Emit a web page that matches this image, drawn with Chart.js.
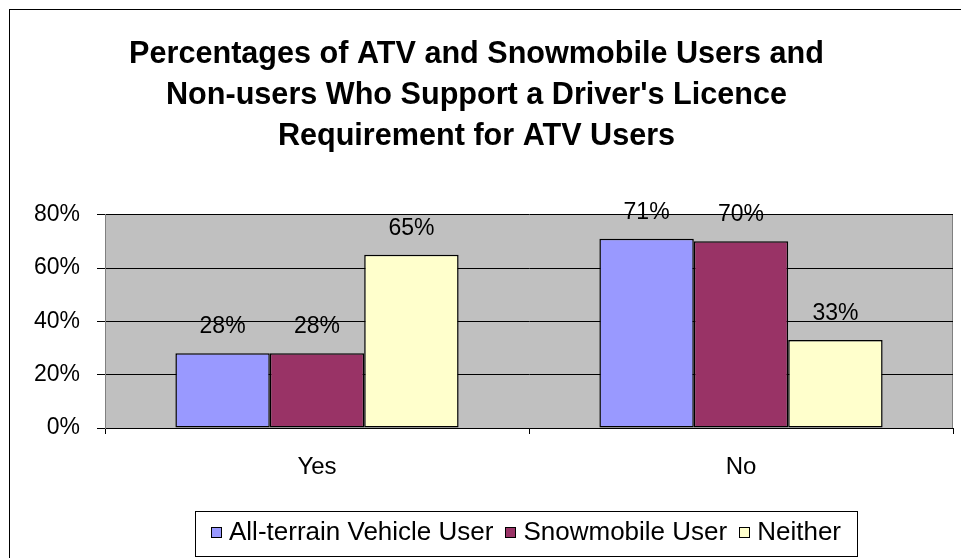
<!DOCTYPE html>
<html>
<head>
<meta charset="utf-8">
<script src="https://cdn.jsdelivr.net/npm/chart.js@4.4.1/dist/chart.umd.min.js"></script>
<style>
  html, body { margin: 0; padding: 0; background: #fff; }
  canvas { display: block; }
</style>
</head>
<body>
<canvas id="myChart" width="961" height="558"></canvas>
<script>
// chart values
var categories = ['Yes', 'No']
var seriesNames = ['All-terrain Vehicle User', 'Snowmobile User', 'Neither']
var atvUsers = [28, 71]
var snowmobileUsers = [28, 70]
var neither = [65, 33]
var yMin = 0
var yMax = 80
var yStep = 20

var titleLines = [
	'Percentages of ATV and Snowmobile Users and',
	"Non-users Who Support a Driver's Licence",
	'Requirement for ATV Users'
]

var colors = ['#9999FF', '#993366', '#FFFFCC']
var fontFamily = '"Liberation Sans", Arial, sans-serif'

// gray plot area, outer frame and right border
var backdrop = {
	id: 'backdrop',
	beforeDraw: function(chart){
		var ctx = chart.ctx
		var a = chart.chartArea
		ctx.save()
		ctx.fillStyle = '#fff'
		ctx.fillRect(0, 0, chart.width, chart.height)
		ctx.strokeStyle = '#000'
		ctx.lineWidth = 1
		ctx.strokeRect(9.5, 9.5, 2000, 2000)
		ctx.fillStyle = '#C0C0C0'
		ctx.fillRect(a.left, a.top, a.right - a.left, a.bottom - a.top)
		ctx.strokeStyle = '#808080'
		ctx.beginPath()
		ctx.moveTo(Math.round(a.right) - 0.5, a.top)
		ctx.lineTo(Math.round(a.right) - 0.5, a.bottom)
		ctx.stroke()
		ctx.restore()
	}
}

// value labels above each bar
var barLabels = {
	id: 'barLabels',
	afterDatasetsDraw: function(chart){
		var ctx = chart.ctx
		ctx.save()
		ctx.font = '23px ' + fontFamily
		ctx.fillStyle = '#000'
		ctx.textAlign = 'center'
		ctx.textBaseline = 'alphabetic'
		chart.data.datasets.forEach(function(ds, i){
			chart.getDatasetMeta(i).data.forEach(function(bar, j){
				ctx.fillText(ds.data[j] + '%', bar.x, bar.y - 20)
			})
		})
		ctx.restore()
	}
}

// boxed legend at the bottom
var boxLegend = {
	id: 'boxLegend',
	afterDraw: function(chart){
		var ctx = chart.ctx
		var boxL = 195, boxT = 511, boxR = 857, boxB = 556
		var sw = 11, gapText = 7, gapItem = 12
		ctx.save()
		ctx.strokeStyle = '#000'
		ctx.lineWidth = 1
		ctx.strokeRect(boxL + 0.5, boxT + 0.5, boxR - boxL, boxB - boxT)
		ctx.font = '26px ' + fontFamily
		var items = chart.data.datasets.map(function(ds){
			return { label: ds.label, color: ds.backgroundColor, w: ctx.measureText(ds.label).width }
		})
		var total = 0
		items.forEach(function(it, i){
			total += sw + gapText + it.w
			if (i > 0) total += gapItem
		})
		var x = (boxL + boxR) / 2 - total / 2
		var cy = 532
		ctx.textBaseline = 'middle'
		ctx.textAlign = 'left'
		items.forEach(function(it){
			ctx.fillStyle = it.color
			ctx.fillRect(Math.round(x), Math.round(cy - sw / 2), sw, sw)
			ctx.strokeStyle = '#000'
			ctx.strokeRect(Math.round(x) + 0.5, Math.round(cy - sw / 2) + 0.5, sw - 1, sw - 1)
			x += sw + gapText
			ctx.fillStyle = '#000'
			ctx.fillText(it.label, x, cy + 1)
			x += it.w + gapItem
		})
		ctx.restore()
	}
}

var datasets = [atvUsers, snowmobileUsers, neither].map(function(vals, i){
	return {
		label: seriesNames[i],
		data: vals,
		backgroundColor: colors[i],
		borderColor: '#000',
		borderWidth: 1.5,
		borderSkipped: false
	}
})

var chart = new Chart(document.getElementById('myChart'), {
	type: 'bar',
	data: { labels: categories, datasets: datasets },
	options: {
		responsive: false,
		animation: false,
		devicePixelRatio: 1,
		layout: { padding: { left: 0, right: 8, top: 0, bottom: 70 } },
		datasets: { bar: { barPercentage: 1, categoryPercentage: 0.668 } },
		plugins: {
			legend: { display: false },
			tooltip: { enabled: false },
			title: {
				display: true,
				text: titleLines,
				color: '#000',
				font: { family: fontFamily, size: 30.6, weight: 'bold', lineHeight: '41px' },
				padding: { top: 34.5, bottom: 57.2 }
			}
		},
		scales: {
			x: {
				grid: { display: true, drawOnChartArea: false, color: '#000', tickLength: 6, offset: true },
				border: { display: true, color: '#000' },
				ticks: { color: '#000', font: { family: fontFamily, size: 24 }, padding: 19 },
				afterFit: function(scale){ scale.height = 60 }
			},
			y: {
				min: yMin,
				max: yMax,
				grid: { color: '#000', tickLength: 8 },
				border: { display: true, color: '#808080' },
				ticks: {
					stepSize: yStep,
					color: '#000',
					font: { family: fontFamily, size: 23 },
					padding: 17,
					callback: function(v){ return v + '%' }
				},
				afterFit: function(scale){ scale.width = 105 }
			}
		}
	},
	plugins: [backdrop, barLabels, boxLegend]
})
</script>
</body>
</html>
